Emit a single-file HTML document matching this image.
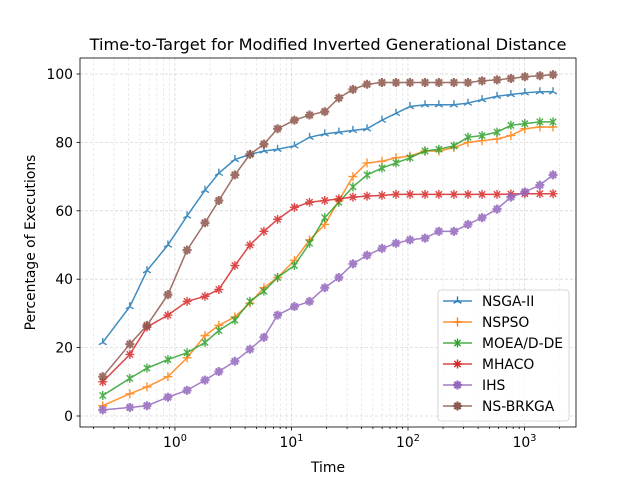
<!DOCTYPE html>
<html><head><meta charset="utf-8"><style>
body{margin:0;background:#fff;font-family:"Liberation Sans","DejaVu Sans",sans-serif}
svg text{font-family:"DejaVu Sans","Liberation Sans",sans-serif}
</style></head><body>
<svg id="c" width="640" height="480" viewBox="0 0 640 480"></svg>
<script>
const times=[0.24,0.41,0.575,0.87,1.27,1.81,2.38,3.27,4.4,5.8,7.6,10.6,14.3,19.3,25.5,33.7,44.5,59.8,78.9,104,140,184,248,327,432,581,764,1007,1355,1757];
const nsga2=[21.5,32,42.5,50,58.5,66,71,75,76.5,77.5,78,79,81.5,82.5,83,83.5,84,86.5,88.5,90.5,91,91,91,91.5,92.5,93.5,94,94.5,94.8,94.8];
const nspso=[3,6.5,8.5,11.5,17,23.5,26.5,29,33,37.5,40.5,45.5,51.5,56,63,70,74,74.5,75.5,76,77.5,77.5,78.5,80,80.5,81,82,84,84.5,84.5];
const moead=[6,11,14,16.5,18.5,21.5,25,28,33.5,36.5,40.5,44,50.5,58,62.5,67,70.5,72.5,74,75.5,77.5,78,79,81.5,82,83,85,85.5,86,86];
const mhaco=[10,18,26,29.5,33.5,35,37,44,50,54,57.5,61,62.5,63,63.5,64,64.3,64.5,64.8,64.8,64.8,64.8,64.8,64.8,64.8,64.8,64.9,65,65,65];
const ihs=[1.8,2.5,3,5.5,7.5,10.5,13,16,19.5,23,29.5,32,33.5,37.5,40.5,44.5,47,49,50.5,51.5,52,54,54,56,58,60.5,64,65.5,67.5,70.5];
const nsbrkga=[11.5,21,26.5,35.5,48.5,56.5,63,70.5,76.5,79.5,84,86.5,88,89,93,95.5,97,97.5,97.5,97.5,97.5,97.5,97.5,97.5,98,98.3,98.7,99.2,99.5,99.8];
const seriesNames=["NSGA-II","NSPSO","MOEA/D-DE","MHACO","IHS","NS-BRKGA"];
const yTicks=[0,20,40,60,80,100];
const xTickExp=[0,1,2,3];

const svg=document.getElementById('c');const NS='http://www.w3.org/2000/svg';
const L=80,R=576,T=58,B=427;
const lx0=-0.815,lx1=3.442;
const X=t=>L+(Math.log10(t)-lx0)/(lx1-lx0)*(R-L);
const Y=v=>416-(v)*3.42;
function mk(tag,at,p){const e=document.createElementNS(NS,tag);for(const k in at)e.setAttribute(k,at[k]);(p||svg).appendChild(e);return e;}
for(let e=-1;e<=3;e++)for(let m=1;m<10;m++){const t=m*Math.pow(10,e);const x=X(t);if(x<L||x>R)continue;
 const g=mk('line',{x1:x,x2:x,y1:T,y2:B,stroke:'#d8d8d8','stroke-width':m==1?0.8:0.5,'stroke-dasharray':'3,2'});
 
 const tk=mk('line',{x1:x,x2:x,y1:B,y2:B+(m==1?3.5:2),stroke:'#000','stroke-width':0.8});
 }
yTicks.forEach(v=>{const y=Y(v);
 const g=mk('line',{x1:L,x2:R,y1:y,y2:y,stroke:'#d8d8d8','stroke-width':0.8,'stroke-dasharray':'3,2'});
 
 mk('line',{x1:L-3.5,x2:L,y1:y,y2:y,stroke:'#000','stroke-width':0.8});
 const t=mk('text',{x:L-7,y:y+5,'text-anchor':'end','font-size':13.9});t.textContent=v;
 });
xTickExp.forEach(e=>{const x=X(Math.pow(10,e));
 const t=mk('text',{x:x,y:B+20,'text-anchor':'middle','font-size':13.9});
 t.innerHTML='10<tspan dy="-6" font-size="9.7">'+e+'</tspan>';
 });
const colors=['#1f77b4','#ff7f0e','#2ca02c','#d62728','#9467bd','#8c564b'];
const data=[nsga2,nspso,moead,mhaco,ihs,nsbrkga];
function marker(i,x,y,g){const c=colors[i];let d='';const s=4.5;
 if(i==0)d=`M${x},${y}v-${s}M${x},${y}l${-s*0.87},${s*0.5}M${x},${y}l${s*0.87},${s*0.5}`;
 else if(i==1)d=`M${x-s},${y}h${2*s}M${x},${y-s}v${2*s}`;
 else if(i==2)d=`M${x-s*0.7},${y-s*0.7}l${1.4*s},${1.4*s}M${x-s*0.7},${y+s*0.7}l${1.4*s},${-1.4*s}M${x},${y-s}v${2*s}`;
 else d=`M${x-s},${y}h${2*s}M${x},${y-s}v${2*s}M${x-s*0.7},${y-s*0.7}l${1.4*s},${1.4*s}M${x-s*0.7},${y+s*0.7}l${1.4*s},${-1.4*s}`;
 const p=mk('path',{d:d,stroke:c,'stroke-width':i>=4?2.2:1.4,fill:'none'},g);
 }
data.forEach((arr,i)=>{const g=mk('g',{opacity:0.85});
 
 
 const pts=arr.map((v,j)=>X(times[j])+','+Y(v)).join(' ');
 const pl=mk('polyline',{points:pts,fill:'none',stroke:colors[i],'stroke-width':1.5},g);
 
 arr.forEach((v,j)=>marker(i,X(times[j]),Y(v),g));});
const fr=mk('rect',{x:L,y:T,width:R-L,height:B-T,fill:'none',stroke:'#000','stroke-width':0.8});

const tt=mk('text',{x:(L+R)/2,y:50,'text-anchor':'middle','font-size':16.2});tt.textContent='Time-to-Target for Modified Inverted Generational Distance';

const xt=mk('text',{x:(L+R)/2,y:472,'text-anchor':'middle','font-size':13.9});xt.textContent='Time';

const yt=mk('text',{x:35,y:(T+B)/2,'text-anchor':'middle','font-size':13.9,transform:`rotate(-90 35 ${(T+B)/2})`});yt.textContent='Percentage of Executions';

const lg=mk('g',{});
mk('rect',{x:438,y:290,width:131,height:131,rx:3,fill:'#fff','fill-opacity':0.8,stroke:'#ccc','stroke-width':0.8},lg);
seriesNames.forEach((n,i)=>{const y=301+i*21;const e=mk('g',{},lg);
 
 mk('line',{x1:443,x2:472,y1:y,y2:y,stroke:colors[i],'stroke-width':1.5,opacity:0.85},e);
 marker(i,457.5,y,e);
 const t=mk('text',{x:482,y:y+5,'font-size':13.9},e);t.textContent=n;});
</script></body></html>
